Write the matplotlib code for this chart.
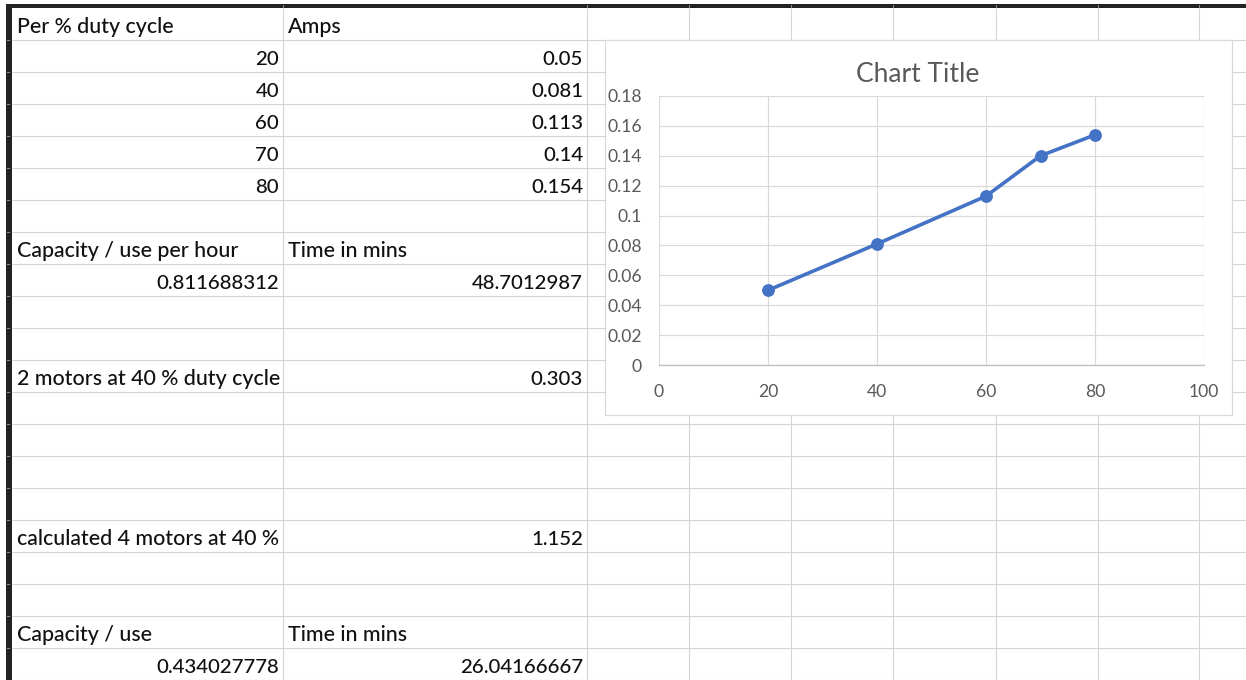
import matplotlib
matplotlib.use("Agg")
import matplotlib.pyplot as plt
from matplotlib.patches import Rectangle

# ---- worksheet contents ----
duty_header = "Per % duty cycle"
amps_header = "Amps"
duty_cycle = [20, 40, 60, 70, 80]
amps = [0.05, 0.081, 0.113, 0.14, 0.154]

capacity_hour_label = "Capacity / use per hour"
time_label = "Time in mins"
capacity_hour = "0.811688312"
time_hour = "48.7012987"

two_motors_label = "2 motors at 40 % duty cycle"
two_motors_value = "0.303"

four_motors_label = "calculated 4 motors at 40 %"
four_motors_value = "1.152"

capacity_label = "Capacity / use"
capacity_value = "0.434027778"
time_value = "26.04166667"

chart_title = "Chart Title"
x_ticks = [0, 20, 40, 60, 80, 100]
y_ticks = [0, 0.02, 0.04, 0.06, 0.08, 0.1, 0.12, 0.14, 0.16, 0.18]

# ---- sheet geometry (pixels) ----
W, H = 1246, 680
PX = 0.72  # points per pixel at dpi 100
row_top = 7.5
row_h = 32.0
n_rows = 21
col_edges = [12, 283, 587, 689, 791, 893, 996, 1098, 1199]
chart_box = (605, 40, 1232, 415)
plot_box = (659, 96, 1204, 365)

FONT = "Lato"
TEXT_SIZE = 15.4   # text cells
NUM_SIZE = 14.7    # numeric cells
GRID = "#d4d4d4"

fig = plt.figure(figsize=(W / 100, H / 100), dpi=100)
base = fig.add_axes([0, 0, 1, 1])
base.set_xlim(0, W)
base.set_ylim(H, 0)
base.axis("off")

row_lines = [row_top + i * row_h for i in range(n_rows + 1)]

# cell gridlines
for y in row_lines[1:]:
    base.plot([12, W], [y, y], color=GRID, lw=1.1 * PX, zorder=1,
              solid_capstyle="butt")
for x in col_edges[1:]:
    base.plot([x, x], [row_top, H], color=GRID, lw=1.1 * PX, zorder=1,
              solid_capstyle="butt")

# frozen-pane borders
base.add_patch(Rectangle((6, 4), W - 6, 3.6, color="#232323", zorder=3, lw=0))
base.add_patch(Rectangle((6, 4), 6, H - 4, color="#232323", zorder=3, lw=0))
for y in row_lines[1:]:
    base.plot([6.5, 9], [y, y], color="#8a8a8a", lw=1.0 * PX, zorder=4)
for x in col_edges[1:]:
    base.plot([x, x], [4.5, 6.5], color="#8a8a8a", lw=1.0 * PX, zorder=4)


def cell(row, col, text, align="left", numeric=False):
    y = row_lines[row] - 6.3
    if align == "left":
        x = col_edges[col] + 5
    else:
        x = col_edges[col + 1] - 4
    base.text(x, y, text, ha=align, va="baseline",
              fontsize=NUM_SIZE if numeric else TEXT_SIZE,
              family=FONT, weight="medium", color="#111111", zorder=5)


cell(1, 0, duty_header)
cell(1, 1, amps_header)
for i, (d, a) in enumerate(zip(duty_cycle, amps)):
    cell(2 + i, 0, f"{d}", "right", True)
    cell(2 + i, 1, f"{a:g}", "right", True)
cell(8, 0, capacity_hour_label)
cell(8, 1, time_label)
cell(9, 0, capacity_hour, "right", True)
cell(9, 1, time_hour, "right", True)
cell(12, 0, two_motors_label)
cell(12, 1, two_motors_value, "right", True)
cell(17, 0, four_motors_label)
cell(17, 1, four_motors_value, "right", True)
cell(20, 0, capacity_label)
cell(20, 1, time_label)
cell(21, 0, capacity_value, "right", True)
cell(21, 1, time_value, "right", True)

# embedded chart frame
cx0, cy0, cx1, cy1 = chart_box
base.add_patch(Rectangle((cx0, cy0), cx1 - cx0, cy1 - cy0, facecolor="white",
                         edgecolor="#d9d9d9", lw=1.2 * PX, zorder=6))
base.text((cx0 + cx1) / 2 - 1, 75, chart_title, ha="center", va="center",
          fontsize=19, family=FONT, color="#595959", zorder=7)

# scatter chart
px0, py0, px1, py1 = plot_box
ax = fig.add_axes([px0 / W, 1 - py1 / H, (px1 - px0) / W, (py1 - py0) / H],
                  zorder=10)
ax.set_facecolor("none")
ax.set_xlim(0, 100)
ax.set_ylim(0, 0.18)
ax.set_xticks(x_ticks)
ax.set_yticks(y_ticks)
ax.set_xticklabels([f"{t:g}" for t in x_ticks])
ax.set_yticklabels([f"{t:g}" for t in y_ticks])
ax.grid(True, color="#d9d9d9", lw=1.2 * PX)
ax.set_axisbelow(True)
for side in ("top", "left", "right"):
    ax.spines[side].set_visible(False)
ax.spines["bottom"].set_color("#bfbfbf")
ax.spines["bottom"].set_linewidth(1.3 * PX)
ax.tick_params(length=0, labelsize=12.6, labelcolor="#595959")
ax.tick_params(axis="y", pad=12.5)
ax.tick_params(axis="x", pad=13.5)
for lab in ax.get_xticklabels() + ax.get_yticklabels():
    lab.set_family(FONT)

ax.plot(duty_cycle, amps, color="#4472c4", lw=2.6, marker="o",
        markersize=8.2, clip_on=False, zorder=5)

fig.savefig("out.png", dpi=100)
